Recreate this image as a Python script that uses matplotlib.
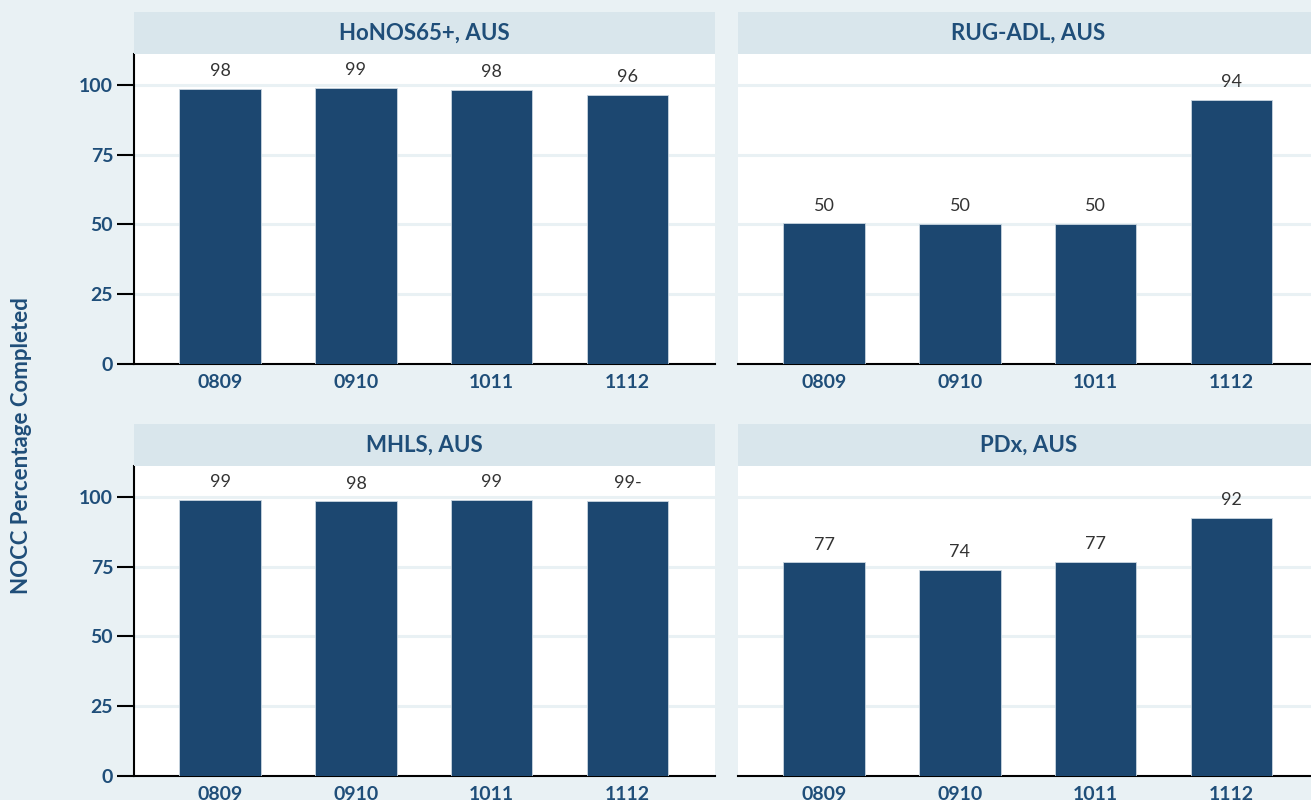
import numpy as np
import matplotlib
matplotlib.use("Agg")
import matplotlib.pyplot as plt

plt.rcParams['font.family'] = ['Lato', 'DejaVu Sans']

years = ['0809', '0910', '1011', '1112']
titles = ['HoNOS65+, AUS', 'RUG-ADL, AUS', 'MHLS, AUS', 'PDx, AUS']
honos = [98.5, 98.8, 98.1, 96.3]
rug = [50.4, 50.2, 50.2, 94.6]
mhls = [98.9, 98.3, 98.9, 98.5]
pdx = [76.5, 73.7, 76.8, 92.5]
honos_lbl = ['98', '99', '98', '96']
rug_lbl = ['50', '50', '50', '94']
mhls_lbl = ['99', '98', '99', '99-']
pdx_lbl = ['77', '74', '77', '92']

values = [honos, rug, mhls, pdx]
labels = [honos_lbl, rug_lbl, mhls_lbl, pdx_lbl]

bg = '#e9f1f4'
strip = '#d9e6ec'
bar_col = '#1c4770'
navy = '#1f4e79'

W, H = 1311, 800
fig = plt.figure(figsize=(W / 100, H / 100), dpi=100, facecolor=bg)

# pixel boxes: (left, top of plot, width); the strip sits above
boxes = [(134, 54, 581), (738, 54, 581), (134, 466, 581), (738, 466, 581)]
plot_h = 310
strip_h = 42

x = np.arange(len(years))
for k, (lx, ty, w) in enumerate(boxes):
    ax = fig.add_axes([lx / W, (H - ty - plot_h) / H, w / W, plot_h / H])
    ax.set_facecolor('white')
    ax.bar(x, values[k], width=0.6, color=bar_col, edgecolor='#c9d6e0',
           linewidth=0.6, zorder=3)
    for i, v in enumerate(values[k]):
        ax.annotate(labels[k][i], xy=(x[i], v), xytext=(0, 7),
                    textcoords='offset points', ha='center', va='bottom',
                    fontsize=13, color='#333333')
    ax.set_xlim(-0.635, 3.645)
    ax.set_ylim(0, 111)
    for gy in [25, 50, 75, 100]:
        ax.axhline(gy, color=bg, linewidth=2.2, zorder=1)
    ax.set_xticks(x)
    ax.set_xticklabels(years, fontsize=14, fontweight='bold', color=navy)
    ax.tick_params(axis='x', length=0, pad=7)
    for s in ['top', 'right']:
        ax.spines[s].set_visible(False)
    ax.spines['bottom'].set_color('black')
    ax.spines['bottom'].set_linewidth(1.5)
    if k % 2 == 0:
        ax.set_yticks([0, 25, 50, 75, 100])
        ax.set_yticklabels(['0', '25', '50', '75', '100'], fontsize=14,
                           fontweight='bold', color=navy)
        ax.tick_params(axis='y', length=12, width=1.5, color='black', pad=3)
        ax.spines['left'].set_color('black')
        ax.spines['left'].set_linewidth(1.5)
    else:
        ax.set_yticks([])
        ax.spines['left'].set_visible(False)

    sax = fig.add_axes([lx / W, (H - ty) / H, w / W, strip_h / H])
    sax.set_facecolor(strip)
    sax.set_xticks([])
    sax.set_yticks([])
    for s in sax.spines.values():
        s.set_visible(False)
    sax.text(0.5, 0.5, titles[k], transform=sax.transAxes,
             ha='center', va='center', fontsize=16, fontweight='bold', color=navy)

fig.text(22 / W, (H - 446) / H, 'NOCC Percentage Completed', rotation=90,
         ha='center', va='center', fontsize=16, fontweight='bold', color=navy)

plt.savefig('out.png', dpi=100, facecolor=bg)
